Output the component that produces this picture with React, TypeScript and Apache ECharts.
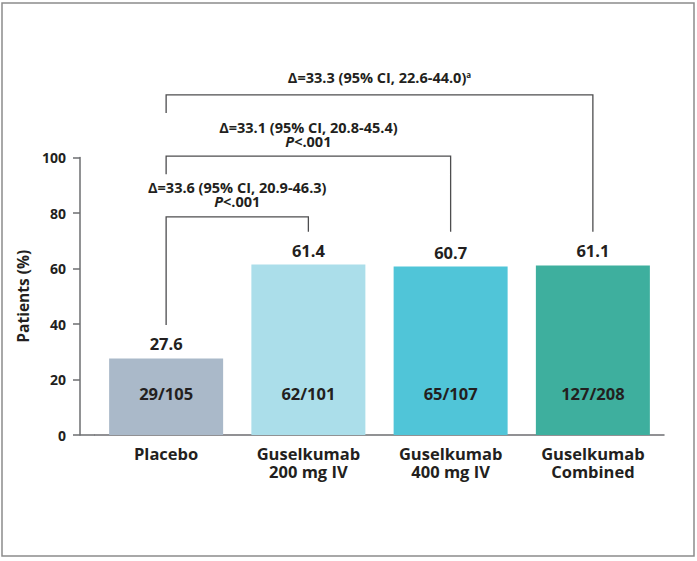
import React, { useEffect, useRef } from "react";
import * as echarts from "echarts";

const categories = ["Placebo", "Guselkumab\n200 mg IV", "Guselkumab\n400 mg IV", "Guselkumab\nCombined"];
const percentValues = [27.6, 61.4, 60.7, 61.1];
const responderCounts = ["29/105", "62/101", "65/107", "127/208"];
const yTicks = { min: 0, max: 100, interval: 20 };

// comparison brackets (category indices and y-values in axis units)
const bracketFrom = [0, 0, 0];
const bracketTo = [1, 2, 3];
const bracketTop = [78.6, 100.5, 122.6];
const bracketLeftEnd = [39.6, 94, 116];
const bracketRightEnd = [73.2, 73.2, 73.2];
const bracketLabels = [
  "{b|Δ=33.6 (95% CI, 20.9-46.3)}\n{i|P}{b|<.001}",
  "{b|Δ=33.1 (95% CI, 20.8-45.4)}\n{i|P}{b|<.001}",
  "{b|Δ=33.3 (95% CI, 22.6-44.0)}{sup|a}",
];

// styles
const barColors = ["#aab9c9", "#abdeea", "#50c5d8", "#3eaf9e"];
const TEXT = "#231f20";
const AXIS = "#6d6e71";
const FONT = "'Open Sans', sans-serif";
const W = 697;
const H = 561;
const GRID_LEFT = 95;
const GRID_RIGHT = 33;
const GRID_TOP = 157.5;
const GRID_BOTTOM = 126;
const Y_OFFSET = 15;
const LABEL_GAPS = [9, 8, 11];
const LABEL_LINE_H = 13.5;

export default function App() {
  const ref = useRef<HTMLDivElement>(null);
  useEffect(() => {
    if (!ref.current) return;
    const chart = echarts.init(ref.current, null, { renderer: "svg" });
    const rich = {
      b: { fontFamily: FONT, fontWeight: "bold", fontSize: 14.5, color: TEXT, lineHeight: LABEL_LINE_H },
      i: { fontFamily: FONT, fontWeight: "bold", fontStyle: "italic", fontSize: 14.5, color: TEXT, lineHeight: LABEL_LINE_H },
      sup: { fontFamily: FONT, fontWeight: "bold", fontSize: 8, color: TEXT, lineHeight: LABEL_LINE_H, verticalAlign: "top" },
    };
    chart.setOption({
      animation: false,
      backgroundColor: "#ffffff",
      grid: { left: GRID_LEFT, right: GRID_RIGHT, top: GRID_TOP, bottom: GRID_BOTTOM, containLabel: false },
      graphic: [
        {
          type: "rect",
          shape: { x: 2, y: 3, width: 692, height: 553 },
          style: { fill: "none", stroke: "#8c8c8c", lineWidth: 1.5 },
          silent: true,
        },
        {
          type: "line",
          shape: { x1: GRID_LEFT - Y_OFFSET, y1: H - GRID_BOTTOM, x2: GRID_LEFT, y2: H - GRID_BOTTOM },
          style: { stroke: AXIS, lineWidth: 1.5 },
          silent: true,
        },
      ],
      xAxis: {
        type: "category",
        data: categories,
        axisTick: { show: false },
        axisLine: { show: true, lineStyle: { color: AXIS, width: 1.5 } },
        axisLabel: {
          interval: 0,
          margin: 9,
          color: TEXT,
          fontFamily: FONT,
          fontWeight: "bold",
          fontSize: 16.5,
          lineHeight: 18,
        },
      },
      yAxis: {
        type: "value",
        min: yTicks.min,
        max: yTicks.max,
        interval: yTicks.interval,
        offset: Y_OFFSET,
        name: "Patients (%)",
        nameLocation: "middle",
        nameGap: 44,
        nameTextStyle: { color: TEXT, fontFamily: FONT, fontWeight: "bold", fontSize: 15.5 },
        axisLine: { show: true, lineStyle: { color: AXIS, width: 1.5 } },
        axisTick: { show: true, length: 7, lineStyle: { color: AXIS, width: 1.5 } },
        splitLine: { show: false },
        axisLabel: { color: TEXT, fontFamily: FONT, fontWeight: "bold", fontSize: 14, margin: 14 },
      },
      series: [
        {
          type: "bar",
          barWidth: 114,
          data: percentValues.map((v, i) => ({ value: v, itemStyle: { color: barColors[i] } })),
          label: {
            show: true,
            position: "insideBottom",
            distance: 33,
            formatter: (p: any) => responderCounts[p.dataIndex],
            color: TEXT,
            fontFamily: FONT,
            fontWeight: "bold",
            fontSize: 16.5,
          },
          silent: true,
        },
        {
          type: "bar",
          barWidth: 114,
          barGap: "-100%",
          data: percentValues,
          itemStyle: { color: "transparent" },
          label: {
            show: true,
            position: "top",
            distance: 6,
            formatter: (p: any) => String(p.value),
            color: TEXT,
            fontFamily: FONT,
            fontWeight: "bold",
            fontSize: 16.5,
          },
          silent: true,
        },
        {
          type: "custom",
          clip: false,
          silent: true,
          encode: { x: [0, 1], y: [2, 3, 4] },
          data: bracketFrom.map((f, i) => [f, bracketTo[i], bracketTop[i], bracketLeftEnd[i], bracketRightEnd[i]]),
          renderItem: (params: any, api: any) => {
            const idx = params.dataIndex;
            const from = api.value(0);
            const to = api.value(1);
            const top = api.value(2);
            const lEnd = api.value(3);
            const rEnd = api.value(4);
            const pTopL = api.coord([from, top]);
            const pTopR = api.coord([to, top]);
            const pL = api.coord([from, lEnd]);
            const pR = api.coord([to, rEnd]);
            return {
              type: "group",
              children: [
                {
                  type: "polyline",
                  shape: { points: [pL, pTopL, pTopR, pR] },
                  style: { stroke: "#4d4d4f", lineWidth: 1.3, fill: "none" },
                },
                {
                  type: "text",
                  x: (pTopL[0] + pTopR[0]) / 2,
                  y: pTopL[1] - LABEL_GAPS[idx],
                  style: {
                    text: bracketLabels[idx],
                    rich,
                    align: "center",
                    verticalAlign: "bottom",
                    textAlign: "center",
                    textVerticalAlign: "bottom",
                    fill: TEXT,
                    font: `bold 14.5px ${FONT}`,
                  },
                },
              ],
            };
          },
        },
      ],
    });
    return () => chart.dispose();
  }, []);
  return <div ref={ref} style={{ position: "absolute", left: 0, top: 0, width: W, height: H }} />;
}
